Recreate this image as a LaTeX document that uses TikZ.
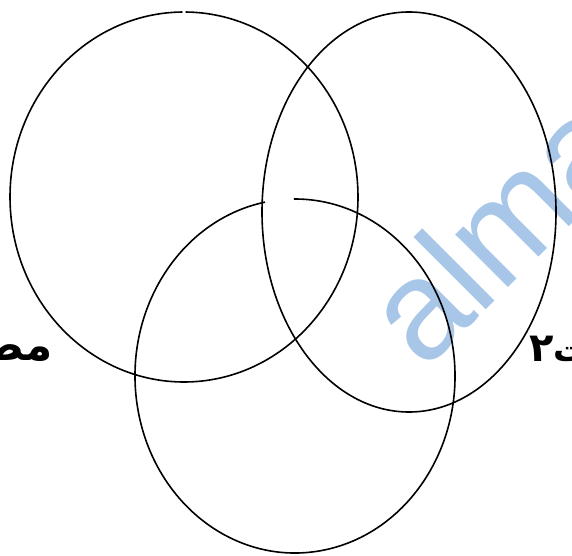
\documentclass[tikz,border=0pt]{standalone}
\usepackage{fontspec}
\setmainfont{Liberation Sans}
\newfontfamily\arabicfont[Script=Arabic]{DejaVu Sans}
\TeXXeTstate=1
\definecolor{wm}{RGB}{168,198,232}
\begin{document}
\begin{tikzpicture}[x=1pt,y=1pt,
  ring/.style={draw=black,line width=1.6pt},
  artext/.style={inner sep=0pt,font=\arabicfont\bfseries\fontsize{44}{44}\selectfont}]
\useasboundingbox (0,0) rectangle (572,555);
\begin{scope}
\clip (0,0) rectangle (572,555);
\node (wm) [anchor=base west,rotate=45,inner sep=0pt,text=wm,font=\fontsize{141}{141}\selectfont] at (424,183) {alma};
\node (lt) [artext,anchor=base east] at (53,195) {\beginR مض\endR};
\node (rt) [artext,anchor=base west,font=\arabicfont\bfseries\fontsize{34}{34}\selectfont] at (529,194) {\beginR ت{\fontsize{40}{40}\selectfont ٢}\endR};
\end{scope}
\coordinate (c1) at (184,358);
\coordinate (c2) at (409,343);
\coordinate (c3) at (295,179);
\draw[ring] (c1) ++(90.5:174 and 185) arc[start angle=90.5,end angle=449.5,x radius=174,y radius=185];
\draw[ring] (c2) ellipse[x radius=147,y radius=200];
\draw[ring] (c3) ++(100.8:160 and 177) arc[start angle=100.8,end angle=450.4,x radius=160,y radius=177];
\end{tikzpicture}
\end{document}
